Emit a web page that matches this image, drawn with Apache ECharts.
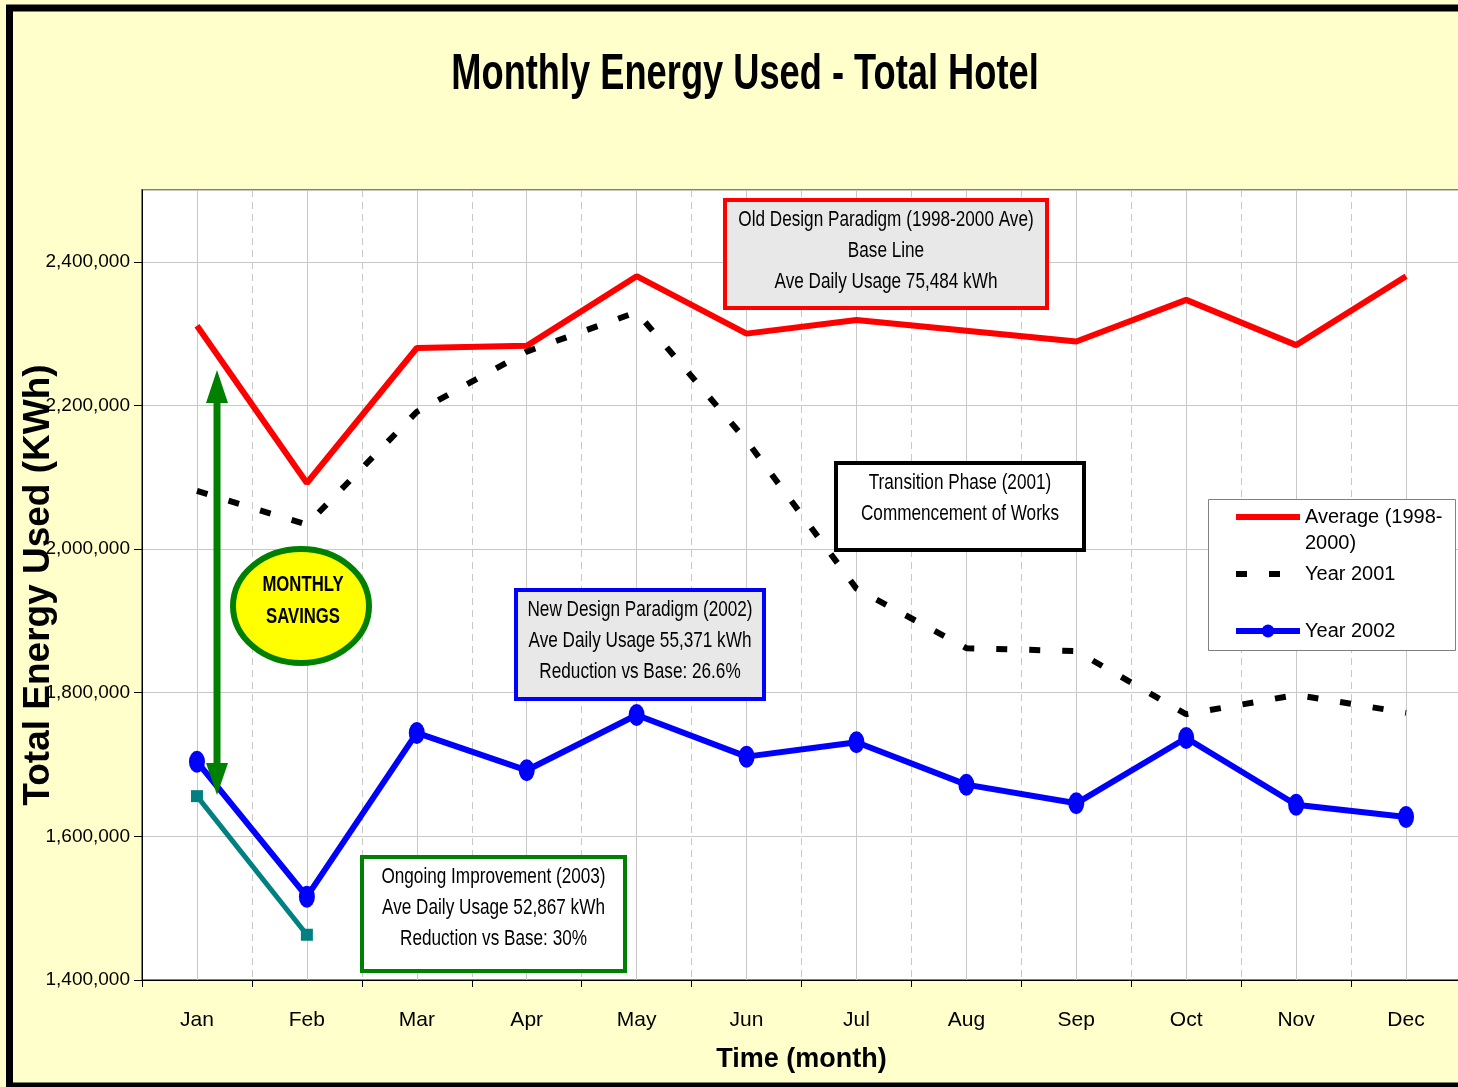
<!DOCTYPE html>
<html><head><meta charset="utf-8">
<script src="https://cdn.jsdelivr.net/npm/echarts@6/dist/echarts.min.js"></script>
<style>html,body{margin:0;padding:0;background:#FFFFCC}#c{width:1458px;height:1087px}</style>
</head><body><div id="c"></div>
<script>
// ---- data ----
const months = ['Jan','Feb','Mar','Apr','May','Jun','Jul','Aug','Sep','Oct','Nov','Dec'];
const avg1998_2000 = [2311000, 2092000, 2280000, 2283000, 2380000, 2300000, 2319000, 2304000, 2289000, 2347000, 2284000, 2380000];
const year2001 = [2081000, 2034000, 2191000, 2275000, 2330000, 2151000, 1945000, 1862000, 1858000, 1770000, 1797000, 1772000];
const year2002 = [1704000, 1516000, 1744000, 1692000, 1769000, 1711000, 1731000, 1672000, 1646000, 1737000, 1644000, 1627000];
const year2003 = [1656000, 1463000];
const yMin = 1400000, yMax = 2500000, yStep = 200000;
const seriesNames = ['Average (1998-2000)', 'Year 2001', 'Year 2002', 'Year 2003'];

const FONT = "'Liberation Sans',Arial,sans-serif";
const fmt = v => String(v).replace(/\B(?=(\d{3})+(?!\d))/g, ',');

const chart = echarts.init(document.getElementById('c'), null, {renderer: 'canvas'});

function label(text, cx, cy, font, sx, lh) {
  return {type: 'text', z: 21, x: cx, y: cy, scaleX: sx,
    style: {text: text, x: 0, y: 0, align: 'center', verticalAlign: 'middle',
            fill: '#000', font: font, lineHeight: lh}};
}
function box(x, y, w, h, fill, stroke, lines, cy) {
  return [
    {type: 'rect', z: 20, shape: {x: x, y: y, width: w, height: h},
     style: {fill: fill, stroke: stroke, lineWidth: 4}},
    label(lines.join('\n'), x + w / 2, cy, 'normal 22px ' + FONT, 0.78, 31)
  ];
}

const graphics = [].concat(
  [{type: 'rect', z: 30, silent: true, shape: {x: 9.5, y: 8, width: 1470, height: 1078},
    style: {fill: null, stroke: '#000', lineWidth: 7}}],
  [label('Monthly Energy Used - Total Hotel', 745, 75, 'bold 50px ' + FONT, 0.725, 56)],
  [{type: 'rect', z: 1, shape: {x: 1208.5, y: 499.5, width: 247, height: 151},
    style: {fill: '#FFFFFF', stroke: '#808080', lineWidth: 1}}],
  box(725, 200, 322, 108, '#E8E8E8', '#FF0000',
      ['Old Design Paradigm (1998-2000 Ave)', 'Base Line', 'Ave Daily Usage 75,484 kWh'], 251),
  box(836, 463, 248, 87, '#FFFFFF', '#000000',
      ['Transition Phase (2001)', 'Commencement of Works'], 498.5),
  box(516, 590, 248, 109, '#E8E8E8', '#0000FF',
      ['New Design Paradigm (2002)', 'Ave Daily Usage 55,371 kWh', 'Reduction vs Base: 26.6%'], 641),
  box(362, 857, 263, 114, '#FFFFFF', '#008000',
      ['Ongoing Improvement (2003)', 'Ave Daily Usage 52,867 kWh', 'Reduction vs Base: 30%'], 908),
  [
    {type: 'ellipse', z: 20, shape: {cx: 301, cy: 606, rx: 68, ry: 57},
     style: {fill: '#FFFF00', stroke: '#008000', lineWidth: 6}},
    label('MONTHLY\nSAVINGS', 303, 601, 'bold 22px ' + FONT, 0.76, 32),
    {type: 'line', z: 20, shape: {x1: 217, y1: 398, x2: 217, y2: 768},
     style: {stroke: '#008000', lineWidth: 7}},
    {type: 'polygon', z: 20, shape: {points: [[217, 370], [206, 403], [228, 403]]},
     style: {fill: '#008000'}},
    {type: 'polygon', z: 20, shape: {points: [[217, 795], [206, 763], [228, 763]]},
     style: {fill: '#008000'}}
  ]
);

const option = {
  animation: false,
  backgroundColor: '#FFFFCC',
  legend: {
    orient: 'vertical', left: 1233, top: 478, padding: 0, itemGap: 5,
    itemWidth: 64, itemHeight: 16,
    textStyle: {fontFamily: FONT, fontSize: 20, color: '#000', lineHeight: 26},
    lineStyle: {width: 'inherit'},
    formatter: n => n === seriesNames[0] ? '\nAverage (1998-\n2000)'
                  : (n === seriesNames[2] ? '\n' + n + '\n' : n),
    data: [
      {name: seriesNames[0], itemStyle: {opacity: 0}},
      {name: seriesNames[1], itemStyle: {opacity: 0}},
      {name: seriesNames[2]}
    ]
  },
  grid: {left: 142, top: 190, width: 1319, height: 790, show: true, outerBoundsMode: 'none',
         containLabel: false,
         backgroundColor: '#FFFFFF', borderColor: '#808080', borderWidth: 2},
  xAxis: [{
    type: 'category', data: months, boundaryGap: true,
    name: 'Time (month)', nameLocation: 'middle', nameGap: 66, nameMoveOverlap: false,
    nameTextStyle: {fontFamily: FONT, fontWeight: 'bold', fontSize: 27, color: '#000'},
    axisLine: {lineStyle: {color: '#000', width: 1}},
    axisTick: {show: true, length: 7, lineStyle: {color: '#000'}},
    axisLabel: {fontFamily: FONT, fontSize: 21, color: '#000', margin: 30},
    splitLine: {show: true, lineStyle: {color: '#C8C8C8', width: 1, type: [7, 5]}}
  }, {
    type: 'category', data: months, boundaryGap: true, position: 'bottom',
    axisLine: {show: false}, axisTick: {show: false}, axisLabel: {show: false},
    splitLine: {show: true, alignWithLabel: true, lineStyle: {color: '#C8C8C8', width: 1}}
  }],
  yAxis: {
    type: 'value', min: yMin, max: yMax, interval: yStep,
    name: 'Total Energy Used (KWh)', nameLocation: 'middle', nameGap: 85, nameMoveOverlap: false,
    nameTextStyle: {fontFamily: FONT, fontWeight: 'bold', fontSize: 37, color: '#000'},
    axisLine: {show: true, lineStyle: {color: '#000', width: 1}},
    axisTick: {show: true, length: 8, lineStyle: {color: '#000'}},
    axisLabel: {fontFamily: FONT, fontSize: 19, color: '#000', margin: 12,
                showMaxLabel: false, formatter: v => fmt(v)},
    splitLine: {show: true, lineStyle: {color: '#C8C8C8', width: 1}}
  },
  series: [
    {name: seriesNames[0], type: 'line', data: avg1998_2000, symbol: 'none', z: 3,
     itemStyle: {color: '#FF0000'}, lineStyle: {color: '#FF0000', width: 6}},
    {name: seriesNames[1], type: 'line', data: year2001, symbol: 'none', z: 3,
     itemStyle: {color: '#000000'}, lineStyle: {color: '#000000', width: 6, type: [11, 22], cap: 'butt'}},
    {name: seriesNames[2], type: 'line', data: year2002, symbol: 'circle', symbolSize: [16, 22], z: 4,
     itemStyle: {color: '#0000FF'}, lineStyle: {color: '#0000FF', width: 6}},
    {name: seriesNames[3], type: 'line', data: year2003, symbol: 'rect', symbolSize: 12, z: 3,
     itemStyle: {color: '#008080'}, lineStyle: {color: '#008080', width: 5}}
  ],
  graphic: {elements: graphics}
};
chart.setOption(option);
</script>
</body></html>
